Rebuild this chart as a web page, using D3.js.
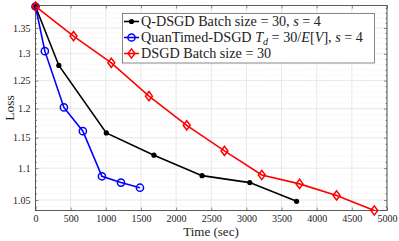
<!DOCTYPE html>
<html>
<head>
<meta charset="utf-8">
<script src="https://cdn.jsdelivr.net/npm/d3@7"></script>
<style>
  body { margin: 0; background: #fff; }
  text { font-family: "Liberation Serif", serif; fill: #222; }
</style>
</head>
<body>
<svg id="chart" width="399" height="241"></svg>
<script>
// values
const qdsgdTime = [0, 332, 1007, 1685, 2369, 3048, 3714]
const qdsgdLoss = [1.393, 1.278, 1.158, 1.121, 1.088, 1.077, 1.048]

const quanTime = [0, 133, 404, 674, 945, 1216, 1486]
const quanLoss = [1.393, 1.305, 1.202, 1.161, 1.087, 1.077, 1.069]

const dsgdTime = [0, 541, 1078, 1614, 2151, 2688, 3219, 3756, 4283, 4819]
const dsgdLoss = [1.393, 1.334, 1.283, 1.222, 1.171, 1.128, 1.089, 1.075, 1.057, 1.034]

const xTicks = [0, 500, 1000, 1500, 2000, 2500, 3000, 3500, 4000, 4500, 5000]
const yTicks = [1.05, 1.1, 1.15, 1.2, 1.25, 1.3, 1.35]
const yMinor = d3.range(104, 140).map(v => v / 100).filter(v => !yTicks.some(t => Math.abs(t - v) < 1e-9))

const series = [
    {name: "qdsgd", color: "#000", marker: "dot", values: qdsgdTime.map((t, i) => ({t, v: qdsgdLoss[i]}))},
    {name: "quan", color: "#0000ff", marker: "circle", values: quanTime.map((t, i) => ({t, v: quanLoss[i]}))},
    {name: "dsgd", color: "#ff0000", marker: "diamond", values: dsgdTime.map((t, i) => ({t, v: dsgdLoss[i]}))}
]

let svg = d3.select("#chart"),
    mLeft = 35.5, mRight = 387, mTop = 5.5, mBottom = 210.5

let x = d3.scaleLinear().domain([0, 5000]).range([mLeft, mRight]),
    y = d3.scaleLog().domain([1.034, 1.395]).range([mBottom, mTop])

let g = svg.append("g")

// grid
g.selectAll(".ymin").data(yMinor).enter().append("line")
    .attr("x1", mLeft).attr("x2", mRight)
    .attr("y1", d => y(d)).attr("y2", d => y(d))
    .style("stroke", "#e4e4e4").style("stroke-dasharray", "1,1.5").style("stroke-width", 0.6)

g.selectAll(".ygrid").data(yTicks).enter().append("line")
    .attr("x1", mLeft).attr("x2", mRight)
    .attr("y1", d => y(d)).attr("y2", d => y(d))
    .style("stroke", "#e2e2e2").style("stroke-width", 0.8)

g.selectAll(".xgrid").data(xTicks).enter().append("line")
    .attr("x1", d => x(d)).attr("x2", d => x(d))
    .attr("y1", mTop).attr("y2", mBottom)
    .style("stroke", "#e2e2e2").style("stroke-width", 0.8)

// axes, ticks pointing inward like matlab
let xAxis = g.append("g").attr("transform", "translate(0," + mBottom + ")")
    .call(d3.axisBottom(x).tickValues(xTicks).tickSize(-3).tickPadding(4).tickFormat(d3.format("d")))
let xTop = g.append("g").attr("transform", "translate(0," + mTop + ")")
    .call(d3.axisTop(x).tickValues(xTicks).tickSize(-3).tickFormat(""))
let yAxis = g.append("g").attr("transform", "translate(" + mLeft + ",0)")
    .call(d3.axisLeft(y).tickValues(yTicks).tickSize(-3).tickPadding(5).tickFormat(d => String(+d.toFixed(2))))
let yRight = g.append("g").attr("transform", "translate(" + mRight + ",0)")
    .call(d3.axisRight(y).tickValues(yTicks).tickSize(-3).tickFormat(""))
let yMinorL = g.append("g").attr("transform", "translate(" + mLeft + ",0)")
    .call(d3.axisLeft(y).tickValues(yMinor).tickSize(-1.5).tickFormat(""))
let yMinorR = g.append("g").attr("transform", "translate(" + mRight + ",0)")
    .call(d3.axisRight(y).tickValues(yMinor).tickSize(-1.5).tickFormat(""))

for (let a of [xAxis, xTop, yAxis, yRight, yMinorL, yMinorR]) {
    a.select(".domain").remove()
    a.selectAll("line").style("stroke", "#444").style("stroke-width", 0.6)
    a.selectAll("text").style("font-size", "10px").style("font-family", '"Liberation Serif", serif').attr("fill", "#333")
}

g.append("rect")
    .attr("x", mLeft).attr("y", mTop)
    .attr("width", mRight - mLeft).attr("height", mBottom - mTop)
    .style("fill", "none").style("stroke", "#333").style("stroke-width", 0.8)

// lines
let line = d3.line().x(d => x(d.t)).y(d => y(d.v))

const drawMarker = (sel, s, cx, cy) => {
    if (s.marker === "dot") {
        sel.append("circle").attr("cx", cx).attr("cy", cy).attr("r", 2.6).style("fill", s.color)
    } else if (s.marker === "circle") {
        sel.append("circle").attr("cx", cx).attr("cy", cy).attr("r", 3.6)
            .style("fill", "none").style("stroke", s.color).style("stroke-width", 1.5)
    } else {
        let r = 4.6
        sel.append("path")
            .attr("d", `M${cx},${cy - r}L${cx + r * 0.75},${cy}L${cx},${cy + r}L${cx - r * 0.75},${cy}Z`)
            .style("fill", "none").style("stroke", s.color).style("stroke-width", 1.5)
    }
}

for (let s of series) {
    let sg = g.append("g")
    sg.append("path").attr("d", line(s.values))
        .style("fill", "none").style("stroke", s.color).style("stroke-width", 1.6)
    for (let d of s.values) drawMarker(sg, s, x(d.t), y(d.v))
}

// legend
let lg = svg.append("g")
lg.append("rect").attr("x", 122.5).attr("y", 13.5).attr("width", 252).attr("height", 49.5)
    .style("fill", "#fff").style("stroke", "#555").style("stroke-width", 0.7)

const rows = [21.5, 37.5, 53.5]
series.forEach((s, i) => {
    let ly = rows[i]
    lg.append("line").attr("x1", 124).attr("x2", 139).attr("y1", ly).attr("y2", ly)
        .style("stroke", s.color).style("stroke-width", 1.6)
    drawMarker(lg, s, 131.5, ly)
})

const legendText = (i) => lg.append("text").attr("x", 141).attr("y", rows[i] + 4.8)
    .style("font-size", "14.2px").attr("fill", "#111")

let t0 = legendText(0)
t0.append("tspan").text("Q-DSGD Batch size = 30, ")
t0.append("tspan").style("font-style", "italic").text("s")
t0.append("tspan").text(" = 4")

let t1 = legendText(1)
t1.append("tspan").text("QuanTimed-DSGD ")
t1.append("tspan").style("font-style", "italic").text("T")
t1.append("tspan").style("font-style", "italic").style("font-size", "10px").attr("dy", 2.5).text("d")
t1.append("tspan").attr("dy", -2.5).text(" = 30/")
t1.append("tspan").style("font-style", "italic").text("E")
t1.append("tspan").text("[")
t1.append("tspan").style("font-style", "italic").text("V")
t1.append("tspan").text("], ")
t1.append("tspan").style("font-style", "italic").text("s")
t1.append("tspan").text(" = 4")

let t2 = legendText(2)
t2.append("tspan").text("DSGD Batch size = 30")

// axis titles
svg.append("text").attr("x", 211).attr("y", 236)
    .attr("text-anchor", "middle").style("font-size", "13px").attr("fill", "#111")
    .text("Time (sec)")

svg.append("text").attr("transform", `translate(14,${(mTop + mBottom) / 2}) rotate(-90)`)
    .attr("text-anchor", "middle").style("font-size", "13.5px").attr("fill", "#111")
    .text("Loss")
</script>
</body>
</html>
